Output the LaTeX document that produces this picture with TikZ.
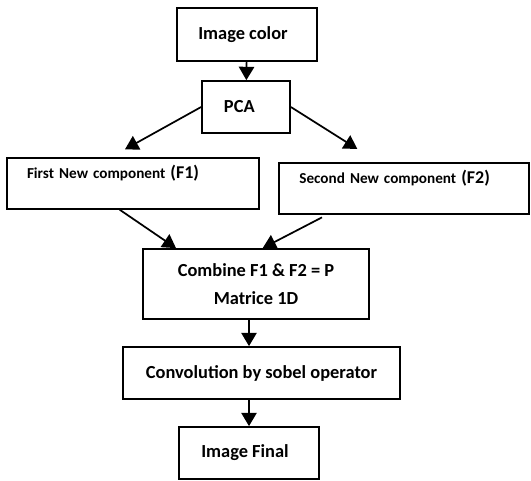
\documentclass[tikz,border=0pt]{standalone}
\usepackage{fontspec}
\setmainfont{Carlito}
\usetikzlibrary{arrows.meta}

\begin{document}
\begin{tikzpicture}[x=0.75pt, y=-0.75pt,
    box/.style={draw, line width=1.3pt, inner sep=0pt, align=center,
        font=\bfseries\fontsize{13.8}{20.5}\selectfont},
    fbox/.style={draw, line width=1.3pt, inner xsep=15pt, inner ysep=0pt, align=left,
        text height=15pt, text depth=23pt, font=\bfseries\fontsize{11.4}{13}\selectfont},
    arr/.style={-{Triangle[length=10pt,width=11.5pt]}, line width=1.3pt}]

    \useasboundingbox (0,0) rectangle (531,481);

    \draw(247,34.5) node[box, minimum width=105pt, minimum height=40pt] (img) {Image color\hspace{6pt}};
    \draw(246,107) node[box, minimum width=66pt, minimum height=39pt] (pca) {PCA\hspace{10pt}};
    \draw(133,183.5) node[fbox, text width=159pt] (f1) {First New component {\fontsize{13.5}{13}\selectfont(F1)}};
    \draw(404,188.5) node[fbox, text width=157pt] (f2) {Second New component {\fontsize{13.5}{13}\selectfont(F2)}};
    \draw(256,284) node[box, minimum width=169.5pt, minimum height=52.5pt] (comb) {Combine F1 \& F2 = P\\ Matrice 1D};
    \draw(261.5,373) node[box, minimum width=208pt, minimum height=39pt] (conv) {Convolution by sobel operator};
    \draw(249,453) node[box, minimum width=105pt, minimum height=39pt] (fin) {Image Final\hspace{6pt}};

    \draw[arr] (img) -- (pca);
    \draw[arr] (pca.west) -- ([xshift=-6pt, yshift=6pt]f1.north);
    \draw[arr] (pca.east) -- ([xshift=-35pt, yshift=10pt]f2.north);
    \draw[arr] ([xshift=-10pt]f1.south) -- ([xshift=-60pt]comb.north);
    \draw[arr] ([xshift=-61.5pt, yshift=-2pt]f2.south) -- ([xshift=5pt]comb.north);
    \draw[arr] (comb.south -| fin) -- (conv.north -| fin);
    \draw[arr] (conv.south -| fin) -- (fin);

    \end{tikzpicture}
\end{document}
